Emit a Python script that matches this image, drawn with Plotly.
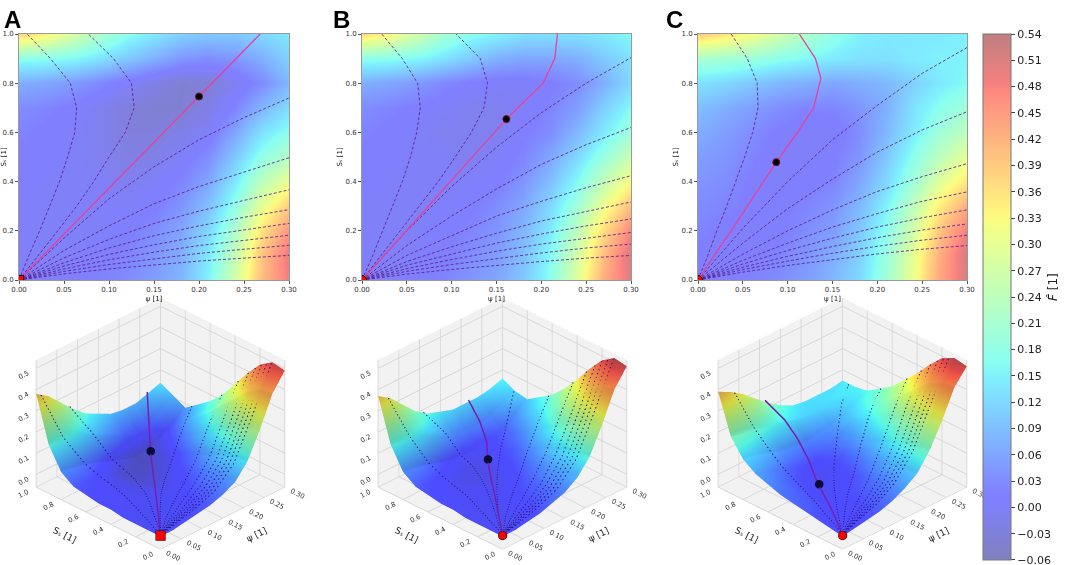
import numpy as np
import plotly.graph_objects as go

# --- grid of the energy landscape ---
psi = [0.00, 0.03, 0.06, 0.09, 0.12, 0.15, 0.18, 0.21, 0.24, 0.27, 0.30]
s_vals = [0.0, 0.1, 0.2, 0.3, 0.4, 0.5, 0.6, 0.7, 0.8, 0.9, 1.0]

# rows = S (0 -> 1), columns = psi (0 -> 0.3)
F_A = [
    [0.00, 0.00, 0.01, 0.02, 0.03, 0.05, 0.08, 0.15, 0.27, 0.41, 0.49],
    [0.00, 0.00, 0.00, 0.01, 0.02, 0.04, 0.07, 0.14, 0.25, 0.40, 0.50],
    [0.00, 0.00, 0.00, 0.00, 0.01, 0.03, 0.06, 0.12, 0.22, 0.36, 0.46],
    [0.00, 0.00, 0.00, 0.00, 0.00, 0.01, 0.04, 0.09, 0.18, 0.30, 0.39],
    [0.01, 0.00, 0.00, 0.00, -0.01, 0.00, 0.02, 0.06, 0.14, 0.24, 0.31],
    [0.01, 0.01, 0.00, -0.01, -0.02, -0.02, 0.00, 0.03, 0.10, 0.18, 0.23],
    [0.02, 0.01, 0.00, -0.01, -0.03, -0.03, -0.02, 0.00, 0.06, 0.13, 0.17],
    [0.03, 0.02, 0.01, -0.01, -0.03, -0.04, -0.04, -0.02, 0.02, 0.08, 0.125],
    [0.07, 0.06, 0.045, 0.025, 0.00, -0.02, -0.04, -0.035, -0.01, 0.03, 0.08],
    [0.17, 0.165, 0.155, 0.13, 0.10, 0.07, 0.04, 0.03, 0.04, 0.07, 0.11],
    [0.38, 0.34, 0.28, 0.22, 0.17, 0.14, 0.11, 0.10, 0.10, 0.12, 0.14],
]
F_B = [
    [0.00, 0.00, 0.01, 0.02, 0.04, 0.06, 0.10, 0.17, 0.29, 0.43, 0.51],
    [0.00, 0.00, 0.00, 0.01, 0.03, 0.05, 0.09, 0.16, 0.27, 0.41, 0.52],
    [0.00, 0.00, 0.00, 0.01, 0.02, 0.04, 0.08, 0.14, 0.24, 0.37, 0.48],
    [0.00, 0.00, 0.00, 0.00, 0.01, 0.03, 0.06, 0.12, 0.20, 0.31, 0.41],
    [0.01, 0.00, 0.00, 0.00, 0.00, 0.01, 0.04, 0.09, 0.16, 0.25, 0.33],
    [0.01, 0.01, 0.00, 0.00, -0.01, 0.00, 0.02, 0.06, 0.12, 0.19, 0.26],
    [0.02, 0.01, 0.00, -0.01, -0.01, -0.01, 0.01, 0.03, 0.08, 0.14, 0.20],
    [0.03, 0.02, 0.01, 0.00, -0.01, -0.01, 0.00, 0.02, 0.05, 0.11, 0.16],
    [0.07, 0.06, 0.045, 0.025, 0.01, 0.00, 0.00, 0.01, 0.03, 0.07, 0.12],
    [0.17, 0.165, 0.155, 0.13, 0.10, 0.07, 0.06, 0.06, 0.07, 0.10, 0.13],
    [0.37, 0.33, 0.27, 0.21, 0.17, 0.15, 0.13, 0.13, 0.13, 0.14, 0.16],
]
F_C = [
    [0.00, 0.01, 0.02, 0.03, 0.05, 0.08, 0.12, 0.20, 0.31, 0.44, 0.51],
    [0.01, 0.01, 0.01, 0.02, 0.04, 0.07, 0.11, 0.19, 0.30, 0.43, 0.52],
    [0.02, 0.01, 0.01, 0.01, 0.03, 0.05, 0.10, 0.17, 0.27, 0.40, 0.49],
    [0.03, 0.02, 0.01, 0.01, 0.02, 0.04, 0.08, 0.15, 0.24, 0.35, 0.43],
    [0.04, 0.03, 0.01, 0.00, 0.01, 0.02, 0.06, 0.12, 0.20, 0.29, 0.36],
    [0.05, 0.04, 0.02, 0.00, 0.00, 0.01, 0.04, 0.10, 0.17, 0.24, 0.30],
    [0.07, 0.05, 0.03, 0.01, 0.00, 0.00, 0.03, 0.08, 0.14, 0.20, 0.24],
    [0.09, 0.07, 0.05, 0.03, 0.02, 0.02, 0.04, 0.07, 0.13, 0.17, 0.20],
    [0.13, 0.12, 0.10, 0.08, 0.07, 0.06, 0.07, 0.08, 0.11, 0.14, 0.16],
    [0.21, 0.20, 0.19, 0.17, 0.155, 0.14, 0.13, 0.13, 0.14, 0.15, 0.15],
    [0.39, 0.36, 0.32, 0.27, 0.22, 0.18, 0.15, 0.14, 0.14, 0.14, 0.15],
]

# --- trajectories (dashed) ---
psi_right = [0.00, 0.05, 0.10, 0.15, 0.20, 0.25, 0.30]
s_left = [0.0, 0.1, 0.2, 0.3, 0.4, 0.5, 0.6, 0.7, 0.8, 0.9, 1.0]

# lines that end on the right edge: S values along psi_right
right_A = [
    [0, 0.17, 0.33, 0.46, 0.57, 0.66, 0.74],
    [0, 0.12, 0.22, 0.31, 0.38, 0.44, 0.497],
    [0, 0.09, 0.165, 0.23, 0.28, 0.325, 0.367],
    [0, 0.07, 0.13, 0.18, 0.22, 0.255, 0.286],
    [0, 0.057, 0.104, 0.143, 0.177, 0.205, 0.23],
    [0, 0.045, 0.082, 0.113, 0.14, 0.162, 0.182],
    [0, 0.035, 0.063, 0.087, 0.108, 0.125, 0.141],
    [0, 0.025, 0.045, 0.062, 0.077, 0.089, 0.10],
]
right_B = [
    [0, 0.20, 0.38, 0.54, 0.68, 0.80, 0.904],
    [0, 0.14, 0.26, 0.37, 0.47, 0.55, 0.62],
    [0, 0.10, 0.18, 0.26, 0.32, 0.375, 0.424],
    [0, 0.075, 0.135, 0.19, 0.24, 0.28, 0.317],
    [0, 0.06, 0.105, 0.15, 0.187, 0.22, 0.248],
    [0, 0.046, 0.083, 0.117, 0.146, 0.171, 0.193],
    [0, 0.035, 0.063, 0.088, 0.11, 0.13, 0.146],
    [0, 0.024, 0.043, 0.06, 0.075, 0.089, 0.10],
]
right_C = [
    [0, 0.21, 0.40, 0.57, 0.71, 0.84, 0.945],
    [0, 0.15, 0.29, 0.41, 0.52, 0.61, 0.684],
    [0, 0.105, 0.20, 0.285, 0.36, 0.42, 0.473],
    [0, 0.08, 0.15, 0.215, 0.27, 0.32, 0.358],
    [0, 0.065, 0.12, 0.17, 0.215, 0.253, 0.285],
    [0, 0.052, 0.096, 0.136, 0.172, 0.203, 0.228],
    [0, 0.042, 0.077, 0.109, 0.137, 0.162, 0.182],
    [0, 0.032, 0.059, 0.084, 0.106, 0.125, 0.14],
]
# lines that end on the top edge: psi values along s_left
top_A = [
    [0, 0.011, 0.023, 0.034, 0.045, 0.054, 0.062, 0.064, 0.057, 0.035, 0.009],
    [0, 0.022, 0.043, 0.064, 0.083, 0.100, 0.118, 0.128, 0.125, 0.105, 0.077],
]
top_B = [
    [0, 0.012, 0.023, 0.034, 0.045, 0.054, 0.061, 0.065, 0.062, 0.045, 0.022],
    [0, 0.021, 0.043, 0.064, 0.085, 0.104, 0.122, 0.136, 0.140, 0.132, 0.105],
]
top_C = [
    [0, 0.011, 0.021, 0.032, 0.042, 0.052, 0.061, 0.067, 0.066, 0.055, 0.037],
]

# --- optimal path (solid) and minimum ---
opt_A_psi = [0.0, 0.1, 0.2, 0.268]
opt_A_s = [0.0, 0.373, 0.746, 1.0]
opt_B_psi = [0.0, 0.025, 0.049, 0.074, 0.0985, 0.123, 0.161, 0.202, 0.215, 0.218]
opt_B_s = [0.0, 0.1, 0.2, 0.3, 0.4, 0.5, 0.654, 0.8, 0.9, 1.0]
opt_C_psi = [0.0, 0.018, 0.037, 0.055, 0.0873, 0.111, 0.129, 0.137, 0.131, 0.113]
opt_C_s = [0.0, 0.1, 0.2, 0.3, 0.479, 0.6, 0.7, 0.82, 0.9, 1.0]

min_pts = {'A': (0.2, 0.746), 'B': (0.161, 0.654), 'C': (0.0873, 0.479)}
start_symbol = {'A': 'square', 'B': 'circle', 'C': 'circle'}

cb_ticks = [-0.06, -0.03, 0.00, 0.03, 0.06, 0.09, 0.12, 0.15, 0.18, 0.21, 0.24,
            0.27, 0.30, 0.33, 0.36, 0.39, 0.42, 0.45, 0.48, 0.51, 0.54]
ZMIN, ZMAX = -0.06, 0.54

# positions are given in screen pixels of the 1072x565 page
W, H = 1072, 565


def px(x):
    return x / W


def py(y):
    return 1 - y / H


# jet colormap, washed with white for the transparency look
def jet_scale(alpha):
    stops = [0, 0.11, 0.125, 0.34, 0.35, 0.375, 0.5, 0.64, 0.65, 0.66, 0.89, 0.91, 1]
    r = np.interp(stops, [0, 0.35, 0.66, 0.89, 1], [0, 0, 1, 1, 0.5])
    g = np.interp(stops, [0, 0.125, 0.375, 0.64, 0.91, 1], [0, 0, 1, 1, 0, 0])
    b = np.interp(stops, [0, 0.11, 0.34, 0.65, 1], [0.5, 1, 1, 0, 0])
    out = []
    for s, rr, gg, bb in zip(stops, r, g, b):
        c = [int(round(255 * (alpha * v + 1 - alpha))) for v in (rr, gg, bb)]
        out.append([s, f'rgb({c[0]},{c[1]},{c[2]})'])
    return out


cs2d = jet_scale(0.5)
cs3d = jet_scale(0.7)


def surf_z(grid, p, s):
    g = np.array(grid)
    zs = []
    for pp, ss in zip(p, s):
        col = [np.interp(pp, psi, row) for row in g]
        zs.append(float(np.interp(ss, s_vals, col)))
    return zs


panels = {
    'A': dict(F=F_A, right=right_A, top=top_A, opt=(opt_A_psi, opt_A_s)),
    'B': dict(F=F_B, right=right_B, top=top_B, opt=(opt_B_psi, opt_B_s)),
    'C': dict(F=F_C, right=right_C, top=top_C, opt=(opt_C_psi, opt_C_s)),
}

dash_2d = dict(color='rgba(90,30,140,0.85)', width=1, dash='3px,2px')
dash_3d = dict(color='rgb(40,20,120)', width=2, dash='dash')

fig = go.Figure()

for k, (name, p) in enumerate(panels.items()):
    n = '' if k == 0 else str(k + 1)
    xa, ya = 'x' + n, 'y' + n
    scene = 'scene' + n

    # ----- 2D map -----
    hm = dict(x=psi, y=s_vals, z=p['F'], zsmooth='best', colorscale=cs2d,
              zmin=ZMIN, zmax=ZMAX, xaxis=xa, yaxis=ya, showscale=(k == 0))
    if k == 0:
        # end ticks nudged inside the range so they are not dropped
        tv = list(cb_ticks)
        tv[0] += 1e-5
        tv[-1] -= 1e-5
        hm['colorbar'] = dict(
            x=px(983), xanchor='left', xpad=0, ypad=0,
            y=py(34), yanchor='top', len=526 / H,
            thickness=28, outlinecolor='#777', outlinewidth=1,
            tickvals=tv, ticktext=[f'{t:.2f}'.replace('-', '\u2212') for t in cb_ticks],
            ticklabeloverflow='allow',
            ticks='outside', ticklen=4, tickfont=dict(size=11, color='#222'))
    fig.add_trace(go.Heatmap(**hm))

    for line in p['right']:
        fig.add_trace(go.Scatter(x=psi_right, y=line, mode='lines', line=dash_2d,
                                 xaxis=xa, yaxis=ya, showlegend=False, hoverinfo='skip'))
    for line in p['top']:
        fig.add_trace(go.Scatter(x=line, y=s_left, mode='lines', line=dash_2d,
                                 xaxis=xa, yaxis=ya, showlegend=False, hoverinfo='skip'))
    op, os_ = p['opt']
    fig.add_trace(go.Scatter(x=op, y=os_, mode='lines', line=dict(color='#e8409a', width=1.3),
                             xaxis=xa, yaxis=ya, showlegend=False, hoverinfo='skip'))
    mp = min_pts[name]
    fig.add_trace(go.Scatter(x=[mp[0]], y=[mp[1]], mode='markers',
                             marker=dict(color='black', size=7, line=dict(color='#6a1030', width=1)),
                             xaxis=xa, yaxis=ya, showlegend=False))
    fig.add_trace(go.Scatter(x=[0], y=[0], mode='markers',
                             marker=dict(color='red', size=9, symbol=start_symbol[name],
                                         line=dict(color='black', width=1)),
                             xaxis=xa, yaxis=ya, showlegend=False))

    # ----- 3D surface -----
    fig.add_trace(go.Surface(x=psi, y=s_vals, z=p['F'], colorscale=cs3d, cmin=ZMIN, cmax=ZMAX,
                             showscale=False, scene=scene, hoverinfo='skip',
                             lighting=dict(ambient=0.8, diffuse=0.35, specular=0.05, roughness=1)))
    for line in p['right']:
        fig.add_trace(go.Scatter3d(x=psi_right, y=line, z=[v + 0.008 for v in surf_z(p['F'], psi_right, line)],
                                   mode='lines', line=dash_3d, scene=scene, showlegend=False))
    for line in p['top']:
        fig.add_trace(go.Scatter3d(x=line, y=s_left, z=[v + 0.008 for v in surf_z(p['F'], line, s_left)],
                                   mode='lines', line=dash_3d, scene=scene, showlegend=False))
    fig.add_trace(go.Scatter3d(x=op, y=os_, z=[v + 0.008 for v in surf_z(p['F'], op, os_)],
                               mode='lines', line=dict(color='rgb(120,30,170)', width=3),
                               scene=scene, showlegend=False))
    fig.add_trace(go.Scatter3d(x=[mp[0]], y=[mp[1]], z=[v + 0.02 for v in surf_z(p['F'], [mp[0]], [mp[1]])],
                               mode='markers', marker=dict(color='rgb(10,10,50)', size=5),
                               scene=scene, showlegend=False))
    fig.add_trace(go.Scatter3d(x=[0], y=[0], z=[0.005], mode='markers',
                               marker=dict(color='red', size=5, symbol=start_symbol[name],
                                           line=dict(color='black', width=1)),
                               scene=scene, showlegend=False))

# ----- layout -----
x_domains = [[px(19), px(289)], [px(362), px(631)], [px(698), px(967)]]
# 3D boxes centred at x = 160, 502, 842 and y ~ 419 (screen px)
scene_w = 0.29
scene_domains = [[max(0.0, px(c) - scene_w / 2), px(c) + scene_w / 2] for c in (160, 502, 842)]
scene_y = [py(419) - 0.245 - 0.008, py(419) + 0.245 - 0.008]

axis2d = dict(showline=True, linecolor='#999', linewidth=1, mirror=True, ticks='outside',
              ticklen=3, tickcolor='#555', tickfont=dict(size=7, color='#333'),
              showgrid=False, zeroline=False, automargin=False)
ax3d = dict(backgroundcolor='rgb(242,242,242)', showbackground=True, gridcolor='rgb(214,214,214)',
            showspikes=False, zeroline=False, tickfont=dict(size=9, color='#333'))

layout = dict(width=W, height=H, margin=dict(l=0, r=0, t=0, b=0, autoexpand=False),
              paper_bgcolor='white', plot_bgcolor='white', showlegend=False,
              font=dict(family='DejaVu Sans', color='#222'))
for k in range(3):
    n = '' if k == 0 else str(k + 1)
    layout['xaxis' + n] = dict(axis2d, domain=x_domains[k], range=[0, 0.3], anchor='y' + n,
                               tickvals=[0, 0.05, 0.1, 0.15, 0.2, 0.25, 0.3], tickformat='.2f',
                               title=dict(text='ψ [1]', font=dict(size=7), standoff=2))
    layout['yaxis' + n] = dict(axis2d, domain=[py(280), py(34)], range=[0, 1], anchor='x' + n,
                               tickvals=[0, 0.2, 0.4, 0.6, 0.8, 1.0], tickformat='.1f',
                               title=dict(text='Sₛ [1]', font=dict(size=7), standoff=2))
    layout['scene' + n] = dict(
        domain=dict(x=scene_domains[k], y=scene_y),
        xaxis=dict(ax3d, range=[0, 0.3], tickvals=[0, 0.05, 0.1, 0.15, 0.2, 0.25, 0.3],
                   tickformat='.2f', title=dict(text='ψ [1]', font=dict(size=9))),
        yaxis=dict(ax3d, range=[0, 1], tickvals=[0, 0.2, 0.4, 0.6, 0.8, 1.0],
                   tickformat='.1f', title=dict(text='Sₛ [1]', font=dict(size=9))),
        zaxis=dict(ax3d, range=[ZMIN, ZMAX], tickvals=[0, 0.1, 0.2, 0.3, 0.4, 0.5],
                   tickformat='.1f', title=dict(text='')),
        aspectmode='manual', aspectratio=dict(x=1.27, y=1.27, z=1.06),
        camera=dict(eye=dict(x=-1.03, y=-1.03, z=0.84), center=dict(x=0, y=0, z=0),
                    projection=dict(type='orthographic')))

annotations = [
    dict(text='<b>' + t + '</b>', x=px(xp), y=py(4), xref='paper', yref='paper',
         xanchor='left', yanchor='top', showarrow=False,
         font=dict(size=24, family='Liberation Sans', color='black'))
    for t, xp in zip('ABC', [2, 331, 664])
]
annotations.append(dict(text='<i>F\u0302</i> [1]', x=px(1053), y=py(287),
                        xref='paper', yref='paper', xanchor='center', yanchor='middle',
                        textangle=-90, showarrow=False,
                        font=dict(size=12, color='#222')))
layout['annotations'] = annotations
fig.update_layout(**layout)

# drop the browser's default 8px page margin so the figure sits at (0, 0)
fig.write_html("out.html", config={'displayModeBar': False},
               post_script="document.body.style.margin = '0px';")
